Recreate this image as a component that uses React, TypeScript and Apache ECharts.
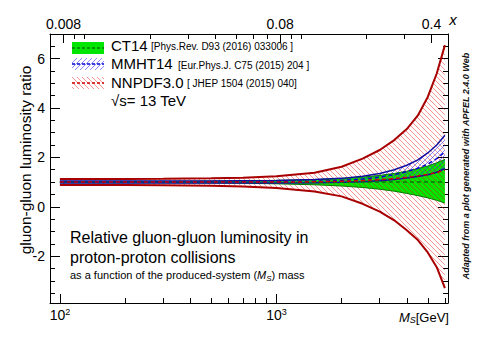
import React, { useEffect, useRef } from 'react';
import * as echarts from 'echarts';

const SQRT_S = 13000;
const MASS = [100, 150, 200, 300, 500, 700, 1000, 1500, 2000, 2500, 3000, 3500, 4000, 4500, 5000, 5500, 6000];

const CT14_UP = [1.03, 1.03, 1.03, 1.03, 1.04, 1.05, 1.07, 1.1, 1.15, 1.2, 1.27, 1.35, 1.44, 1.55, 1.65, 1.78, 1.92];
const CT14_LO = [0.97, 0.97, 0.97, 0.97, 0.96, 0.95, 0.93, 0.89, 0.84, 0.78, 0.71, 0.63, 0.54, 0.45, 0.36, 0.26, 0.15];
const CT14_C = [1, 1, 1, 1, 1, 1, 1, 1, 1, 1, 1, 1, 1, 1, 1, 1, 1];

const MMHT_UP = [1.04, 1.04, 1.04, 1.04, 1.04, 1.05, 1.06, 1.1, 1.15, 1.24, 1.35, 1.5, 1.68, 1.9, 2.18, 2.5, 2.9];
const MMHT_C = [1.0, 1.0, 1.0, 1.0, 1.0, 1.0, 1.01, 1.03, 1.07, 1.12, 1.2, 1.3, 1.42, 1.56, 1.73, 1.95, 2.22];
const MMHT_LO = [0.96, 0.96, 0.96, 0.96, 0.96, 0.96, 0.96, 0.97, 0.99, 1.01, 1.05, 1.1, 1.16, 1.23, 1.3, 1.4, 1.55];

const NNPDF_UP = [1.12, 1.12, 1.12, 1.13, 1.15, 1.18, 1.24, 1.38, 1.62, 1.95, 2.3, 2.7, 3.15, 3.7, 4.45, 5.4, 6.55];
const NNPDF_C = [1.0, 1.0, 1.0, 1.0, 1.0, 1.0, 1.0, 1.01, 1.03, 1.06, 1.1, 1.14, 1.19, 1.25, 1.31, 1.39, 1.48];
const NNPDF_LO = [0.88, 0.88, 0.88, 0.87, 0.85, 0.82, 0.76, 0.62, 0.42, 0.12, -0.2, -0.55, -0.95, -1.35, -1.85, -2.45, -3.3];

const M_RANGE = [90, 6200];
const Y_RANGE = [-3.9, 7];
const Y_MAJOR = [-2, 0, 2, 4, 6];
const Y_MINOR = [-3.5, -3, -2.5, -1.5, -1, -0.5, 0.5, 1, 1.5, 2.5, 3, 3.5, 4.5, 5, 5.5, 6.5];
const M_MAJOR = [100, 1000];
const M_MINOR = [200, 300, 400, 500, 600, 700, 800, 900, 2000, 3000, 4000, 5000, 6000];
const X_TOP_MAJOR = [0.008, 0.08, 0.4];
const X_TOP_LABELS = ['0.008', '0.08', '0.4'];
const X_TOP_MINOR = [0.009, 0.01, 0.02, 0.03, 0.04, 0.05, 0.06, 0.07, 0.09, 0.1, 0.2, 0.3];

const LEGEND_NAMES = ['CT14', 'MMHT14', 'NNPDF3.0'];
const LEGEND_REFS = ['[Phys.Rev. D93 (2016) 033006 ]', '[Eur.Phys.J. C75 (2015) 204 ]', '[ JHEP 1504 (2015) 040]'];

const FONT = '"Liberation Sans", Arial, Helvetica, sans-serif';
const lg = Math.log10;
const logMass = MASS.map(lg);
const topToLog = (x: number) => lg(x * SQRT_S);

function hatch(color: string, dir: 'back' | 'fwd', size: number, lw = 1) {
  const c = document.createElement('canvas');
  c.width = size;
  c.height = size;
  const ctx = c.getContext('2d')!;
  ctx.strokeStyle = color;
  ctx.lineWidth = lw;
  ctx.beginPath();
  for (const o of [-size, 0, size]) {
    if (dir === 'back') {
      ctx.moveTo(o, 0);
      ctx.lineTo(o + size, size);
    } else {
      ctx.moveTo(o, size);
      ctx.lineTo(o + size, 0);
    }
  }
  ctx.stroke();
  return { image: c, repeat: 'repeat' };
}

function band(up: number[], lo: number[], fill: any, z: number) {
  return {
    type: 'custom',
    xAxisIndex: 0,
    yAxisIndex: 0,
    z,
    silent: true,
    clip: true,
    data: [[logMass[0], up[0]]],
    renderItem: (_p: any, api: any) => {
      const pts: number[][] = [];
      for (let i = 0; i < logMass.length; i++) pts.push(api.coord([logMass[i], up[i]]));
      for (let i = logMass.length - 1; i >= 0; i--) pts.push(api.coord([logMass[i], lo[i]]));
      return { type: 'polygon', shape: { points: pts }, style: { fill, stroke: 'none' } };
    },
  };
}

function line(ys: number[], color: string, width: number, type: any, z: number) {
  return {
    type: 'line',
    xAxisIndex: 0,
    yAxisIndex: 0,
    data: logMass.map((x, i) => [x, ys[i]]),
    showSymbol: false,
    symbol: 'none',
    silent: true,
    clip: true,
    z,
    lineStyle: { color, width, type },
  };
}

export default function App() {
  const ref = useRef<HTMLDivElement>(null);
  useEffect(() => {
    if (!ref.current) return;
    const chart = echarts.init(ref.current, undefined, { renderer: 'svg' });
    const redHatch = hatch('rgba(240,0,0,0.42)', 'back', 5);
    const blueHatch = hatch('rgba(40,40,255,0.55)', 'fwd', 5);
    const green = '#00e600';
    const darkRed = '#a80000';
    const darkBlue = '#1010a0';
    const darkGreen = '#007a00';

    const xMin = lg(M_RANGE[0]);
    const xMax = lg(M_RANGE[1]);
    const tickStyle = { color: '#000', width: 1 };
    const noSplit = { show: false };
    const frameLine = { show: true, onZero: false, lineStyle: { color: '#000', width: 1 } };
    const hiddenLine = { show: false, onZero: false };

    const option: any = {
      animation: false,
      backgroundColor: '#fff',
      grid: [
        { left: 50, right: 50, top: 34, bottom: 35, containLabel: false },
        { left: 50, right: 50, top: 34, bottom: 35, containLabel: false },
      ],
      xAxis: [
        {
          gridIndex: 0, type: 'value', position: 'bottom', min: xMin, max: xMax,
          axisLine: frameLine,
          axisTick: { show: true, inside: true, length: 9, lineStyle: tickStyle, customValues: M_MAJOR.map(lg) },
          axisLabel: {
            show: true, margin: 4, customValues: M_MAJOR.map(lg),
            formatter: (v: number) => `{b|10}{s|${Math.round(v)}}`,
            rich: {
              b: { fontSize: 14, fontFamily: FONT, color: '#000', lineHeight: 16 },
              s: { fontSize: 9, fontFamily: FONT, color: '#000', lineHeight: 9, verticalAlign: 'top' },
            },
          },
          splitLine: noSplit,
        },
        {
          gridIndex: 0, type: 'value', position: 'top', min: xMin, max: xMax,
          axisLine: frameLine,
          axisTick: { show: true, inside: true, length: 9, lineStyle: tickStyle, customValues: X_TOP_MAJOR.map(topToLog) },
          axisLabel: {
            show: true, margin: 3, fontSize: 14, fontFamily: FONT, color: '#000',
            customValues: X_TOP_MAJOR.map(topToLog),
            formatter: (v: number) => {
              let best = 0;
              X_TOP_MAJOR.forEach((x, i) => {
                if (Math.abs(topToLog(x) - v) < Math.abs(topToLog(X_TOP_MAJOR[best]) - v)) best = i;
              });
              return X_TOP_LABELS[best];
            },
          },
          splitLine: noSplit,
        },
        {
          gridIndex: 1, type: 'value', position: 'bottom', min: xMin, max: xMax,
          axisLine: hiddenLine,
          axisTick: { show: true, inside: true, length: 5, lineStyle: tickStyle, customValues: M_MINOR.map(lg) },
          axisLabel: { show: false },
          splitLine: noSplit,
        },
        {
          gridIndex: 1, type: 'value', position: 'top', min: xMin, max: xMax,
          axisLine: hiddenLine,
          axisTick: { show: true, inside: true, length: 5, lineStyle: tickStyle, customValues: X_TOP_MINOR.map(topToLog) },
          axisLabel: { show: false },
          splitLine: noSplit,
        },
      ],
      yAxis: [
        {
          gridIndex: 0, type: 'value', position: 'left', min: Y_RANGE[0], max: Y_RANGE[1],
          axisLine: frameLine,
          axisTick: { show: true, inside: true, length: 10, lineStyle: tickStyle, customValues: Y_MAJOR },
          axisLabel: { show: true, margin: 5, fontSize: 14, fontFamily: FONT, color: '#000', customValues: Y_MAJOR },
          splitLine: noSplit,
        },
        {
          gridIndex: 0, type: 'value', position: 'right', min: Y_RANGE[0], max: Y_RANGE[1],
          axisLine: frameLine,
          axisTick: { show: true, inside: true, length: 10, lineStyle: tickStyle, customValues: Y_MAJOR },
          axisLabel: { show: false },
          splitLine: noSplit,
        },
        {
          gridIndex: 1, type: 'value', position: 'left', min: Y_RANGE[0], max: Y_RANGE[1],
          axisLine: hiddenLine,
          axisTick: { show: true, inside: true, length: 5, lineStyle: tickStyle, customValues: Y_MINOR },
          axisLabel: { show: false },
          splitLine: noSplit,
        },
        {
          gridIndex: 1, type: 'value', position: 'right', min: Y_RANGE[0], max: Y_RANGE[1],
          axisLine: hiddenLine,
          axisTick: { show: true, inside: true, length: 5, lineStyle: tickStyle, customValues: Y_MINOR },
          axisLabel: { show: false },
          splitLine: noSplit,
        },
      ],
      series: [
        band(CT14_UP, CT14_LO, green, 1),
        band(NNPDF_UP, NNPDF_LO, redHatch, 2),
        band(MMHT_UP, MMHT_LO, blueHatch, 3),
        line(CT14_UP, darkGreen, 1, 'solid', 4),
        line(CT14_LO, darkGreen, 1, 'solid', 4),
        line(MMHT_UP, darkBlue, 1.5, 'solid', 5),
        line(MMHT_LO, darkBlue, 1.5, 'solid', 5),
        line(NNPDF_UP, darkRed, 2, 'solid', 6),
        line(NNPDF_LO, darkRed, 2, 'solid', 6),
        line(CT14_C, darkGreen, 1.5, [4, 3], 7),
        line(MMHT_C, '#0000d0', 1.5, [4, 3], 8),
        line(NNPDF_C, '#d00000', 1.5, [4, 3], 9),
      ],
      graphic: [
        // legend
        { type: 'rect', shape: { x: 72, y: 42, width: 32, height: 12 }, style: { fill: green }, z: 10 },
        { type: 'line', shape: { x1: 72, y1: 48, x2: 104, y2: 48 }, style: { stroke: darkGreen, lineWidth: 1.5, lineDash: [3, 2] }, z: 11 },
        { type: 'rect', shape: { x: 72, y: 58, width: 32, height: 12 }, style: { fill: blueHatch }, z: 10 },
        { type: 'line', shape: { x1: 72, y1: 64, x2: 104, y2: 64 }, style: { stroke: '#0000d0', lineWidth: 1.5, lineDash: [3, 2] }, z: 11 },
        { type: 'rect', shape: { x: 72, y: 77, width: 32, height: 12 }, style: { fill: redHatch }, z: 10 },
        { type: 'line', shape: { x1: 72, y1: 83, x2: 104, y2: 83 }, style: { stroke: '#d00000', lineWidth: 1.5, lineDash: [3, 2] }, z: 11 },
        { type: 'text', x: 111, y: 45, style: { text: LEGEND_NAMES[0], font: `15px ${FONT}`, fill: '#000', textVerticalAlign: 'middle' }, z: 11 },
        { type: 'text', x: 151, y: 46.5, style: { text: LEGEND_REFS[0], font: `10px ${FONT}`, fill: '#000', textVerticalAlign: 'middle' }, z: 11 },
        { type: 'text', x: 111, y: 63.5, style: { text: LEGEND_NAMES[1], font: `15px ${FONT}`, fill: '#000', textVerticalAlign: 'middle' }, z: 11 },
        { type: 'text', x: 178, y: 65, style: { text: LEGEND_REFS[1], font: `10px ${FONT}`, fill: '#000', textVerticalAlign: 'middle' }, z: 11 },
        { type: 'text', x: 111, y: 82, style: { text: LEGEND_NAMES[2], font: `15px ${FONT}`, fill: '#000', textVerticalAlign: 'middle' }, z: 11 },
        { type: 'text', x: 187, y: 83.5, style: { text: LEGEND_REFS[2], font: `10px ${FONT}`, fill: '#000', textVerticalAlign: 'middle' }, z: 11 },
        { type: 'text', x: 111, y: 100, style: { text: '√s= 13 TeV', font: `15px ${FONT}`, fill: '#000', textVerticalAlign: 'middle' }, z: 11 },
        // annotation
        { type: 'text', x: 70, y: 237, style: { text: 'Relative gluon-gluon luminosity in', font: `16px ${FONT}`, fill: '#000', textVerticalAlign: 'middle' }, z: 11 },
        { type: 'text', x: 70, y: 257, style: { text: 'proton-proton collisions', font: `16px ${FONT}`, fill: '#000', textVerticalAlign: 'middle' }, z: 11 },
        {
          type: 'text', x: 70, y: 275, z: 11,
          style: {
            text: '{n|as a function of the produced-system (}{m|M}{s|S}{n|) mass}',
            textVerticalAlign: 'middle',
            rich: {
              n: { fontSize: 11, fontFamily: FONT, fill: '#000', lineHeight: 14 },
              m: { fontSize: 11, fontFamily: FONT, fontStyle: 'italic', fill: '#000', lineHeight: 14 },
              s: { fontSize: 8, fontFamily: FONT, fontStyle: 'italic', fill: '#000', lineHeight: 8, verticalAlign: 'bottom' },
            },
          },
        },
        // axis titles
        {
          type: 'text', x: 25, y: 160, rotation: Math.PI / 2, z: 11,
          style: { text: 'gluon-gluon luminosity ratio', font: `15.5px ${FONT}`, fill: '#000', textAlign: 'center', textVerticalAlign: 'middle' },
        },
        {
          type: 'text', x: 449, y: 317, z: 11,
          style: {
            text: '{m|M}{s|S}{n|[GeV]}',
            textAlign: 'right', textVerticalAlign: 'middle',
            rich: {
              m: { fontSize: 13, fontFamily: FONT, fontStyle: 'italic', fill: '#000', lineHeight: 15 },
              s: { fontSize: 9, fontFamily: FONT, fontStyle: 'italic', fill: '#000', lineHeight: 9, verticalAlign: 'bottom' },
              n: { fontSize: 13, fontFamily: FONT, fill: '#000', lineHeight: 15 },
            },
          },
        },
        { type: 'text', x: 453, y: 19, z: 11, style: { text: 'x', font: `italic 15px ${FONT}`, fill: '#000', textAlign: 'center', textVerticalAlign: 'middle' } },
        {
          type: 'text', x: 466, y: 166, rotation: Math.PI / 2, z: 11,
          style: { text: 'Adapted from a plot generated with APFEL 2.4.0 Web', font: `italic bold 9px ${FONT}`, fill: '#111', textAlign: 'center', textVerticalAlign: 'middle' },
        },
      ],
    };
    chart.setOption(option);
    return () => chart.dispose();
  }, []);
  return <div ref={ref} style={{ position: 'fixed', left: 0, top: 0, width: 498, height: 338, background: '#fff' }} />;
}
